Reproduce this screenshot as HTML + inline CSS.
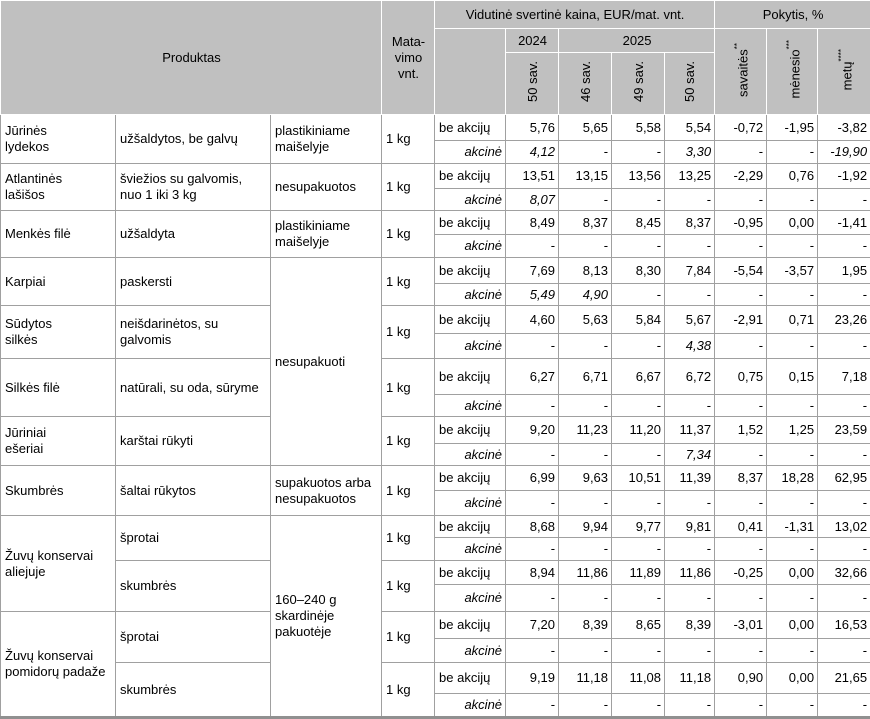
<!DOCTYPE html>
<html><head><meta charset="utf-8"><style>
body{margin:0;background:#fff;width:870px;height:719px;overflow:hidden;position:relative}
table{border-collapse:collapse;table-layout:fixed;width:870px;font-family:"Liberation Sans",Arial,sans-serif;font-size:13px;color:#000}
td{border:1px solid #a0a0a0;padding:0 3px 0 4px;overflow:hidden;line-height:16px}
.h td{background:#c0c0c0;text-align:center;border-color:#fff}
.r{text-align:right}
.i{font-style:italic;text-align:right}
.v{writing-mode:vertical-rl;transform:rotate(180deg);display:inline-block;white-space:nowrap}
sup{font-size:8px}
.bot{position:absolute;left:0;top:716px;width:870px;height:3px;background:#909090}
</style></head><body>
<table>
<colgroup><col style="width:115px"><col style="width:155px"><col style="width:111px"><col style="width:53px"><col style="width:71px"><col style="width:53px"><col style="width:53px"><col style="width:53px"><col style="width:50px"><col style="width:52px"><col style="width:51px"><col style="width:53px"></colgroup>
<tr class="h" style="height:28px"><td colspan="3" rowspan="3">Produktas</td><td rowspan="3">Mata-<br>vimo<br>vnt.</td><td colspan="5">Vidutinė svertinė kaina, EUR/mat. vnt.</td><td colspan="3">Pokytis, %</td></tr>
<tr class="h" style="height:24px"><td rowspan="2"></td><td>2024</td><td colspan="3">2025</td><td rowspan="2"><span class="v">savaitės<sup>**</sup></span></td><td rowspan="2"><span class="v">mėnesio<sup>***</sup></span></td><td rowspan="2"><span class="v">metų<sup>****</sup></span></td></tr>
<tr class="h" style="height:62px"><td><span class="v">50 sav.</span></td><td><span class="v">46 sav.</span></td><td><span class="v">49 sav.</span></td><td><span class="v">50 sav.</span></td></tr>

<tr style="height:26px"><td rowspan="2">Jūrinės<br>lydekos</td><td rowspan="2">užšaldytos, be galvų</td><td rowspan="2">plastikiniame maišelyje</td><td rowspan="2">1 kg</td><td>be akcijų</td><td class="r">5,76</td><td class="r">5,65</td><td class="r">5,58</td><td class="r">5,54</td><td class="r">-0,72</td><td class="r">-1,95</td><td class="r">-3,82</td></tr>
<tr style="height:23px"><td class="i">akcinė</td><td class="i">4,12</td><td class="r">-</td><td class="r">-</td><td class="i">3,30</td><td class="r">-</td><td class="r">-</td><td class="i">-19,90</td></tr>

<tr style="height:25px"><td rowspan="2">Atlantinės<br>lašišos</td><td rowspan="2">šviežios su galvomis,<br>nuo 1 iki 3 kg</td><td rowspan="2">nesupakuotos</td><td rowspan="2">1 kg</td><td>be akcijų</td><td class="r">13,51</td><td class="r">13,15</td><td class="r">13,56</td><td class="r">13,25</td><td class="r">-2,29</td><td class="r">0,76</td><td class="r">-1,92</td></tr>
<tr style="height:22px"><td class="i">akcinė</td><td class="i">8,07</td><td class="r">-</td><td class="r">-</td><td class="r">-</td><td class="r">-</td><td class="r">-</td><td class="r">-</td></tr>

<tr style="height:24px"><td rowspan="2">Menkės filė</td><td rowspan="2">užšaldyta</td><td rowspan="2">plastikiniame maišelyje</td><td rowspan="2">1 kg</td><td>be akcijų</td><td class="r">8,49</td><td class="r">8,37</td><td class="r">8,45</td><td class="r">8,37</td><td class="r">-0,95</td><td class="r">0,00</td><td class="r">-1,41</td></tr>
<tr style="height:23px"><td class="i">akcinė</td><td class="r">-</td><td class="r">-</td><td class="r">-</td><td class="r">-</td><td class="r">-</td><td class="r">-</td><td class="r">-</td></tr>

<tr style="height:26px"><td rowspan="2">Karpiai</td><td rowspan="2">paskersti</td><td rowspan="8">nesupakuoti</td><td rowspan="2">1 kg</td><td>be akcijų</td><td class="r">7,69</td><td class="r">8,13</td><td class="r">8,30</td><td class="r">7,84</td><td class="r">-5,54</td><td class="r">-3,57</td><td class="r">1,95</td></tr>
<tr style="height:22px"><td class="i">akcinė</td><td class="i">5,49</td><td class="i">4,90</td><td class="r">-</td><td class="r">-</td><td class="r">-</td><td class="r">-</td><td class="r">-</td></tr>

<tr style="height:28px"><td rowspan="2">Sūdytos<br>silkės</td><td rowspan="2">neišdarinėtos, su<br>galvomis</td><td rowspan="2">1 kg</td><td>be akcijų</td><td class="r">4,60</td><td class="r">5,63</td><td class="r">5,84</td><td class="r">5,67</td><td class="r">-2,91</td><td class="r">0,71</td><td class="r">23,26</td></tr>
<tr style="height:25px"><td class="i">akcinė</td><td class="r">-</td><td class="r">-</td><td class="r">-</td><td class="i">4,38</td><td class="r">-</td><td class="r">-</td><td class="r">-</td></tr>

<tr style="height:36px"><td rowspan="2">Silkės filė</td><td rowspan="2">natūrali, su oda, sūryme</td><td rowspan="2">1 kg</td><td>be akcijų</td><td class="r">6,27</td><td class="r">6,71</td><td class="r">6,67</td><td class="r">6,72</td><td class="r">0,75</td><td class="r">0,15</td><td class="r">7,18</td></tr>
<tr style="height:22px"><td class="i">akcinė</td><td class="r">-</td><td class="r">-</td><td class="r">-</td><td class="r">-</td><td class="r">-</td><td class="r">-</td><td class="r">-</td></tr>

<tr style="height:27px"><td rowspan="2">Jūriniai<br>ešeriai</td><td rowspan="2">karštai rūkyti</td><td rowspan="2">1 kg</td><td>be akcijų</td><td class="r">9,20</td><td class="r">11,23</td><td class="r">11,20</td><td class="r">11,37</td><td class="r">1,52</td><td class="r">1,25</td><td class="r">23,59</td></tr>
<tr style="height:22px"><td class="i">akcinė</td><td class="r">-</td><td class="r">-</td><td class="r">-</td><td class="i">7,34</td><td class="r">-</td><td class="r">-</td><td class="r">-</td></tr>

<tr style="height:25px"><td rowspan="2">Skumbrės</td><td rowspan="2">šaltai rūkytos</td><td rowspan="2">supakuotos arba nesupakuotos</td><td rowspan="2">1 kg</td><td>be akcijų</td><td class="r">6,99</td><td class="r">9,63</td><td class="r">10,51</td><td class="r">11,39</td><td class="r">8,37</td><td class="r">18,28</td><td class="r">62,95</td></tr>
<tr style="height:25px"><td class="i">akcinė</td><td class="r">-</td><td class="r">-</td><td class="r">-</td><td class="r">-</td><td class="r">-</td><td class="r">-</td><td class="r">-</td></tr>

<tr style="height:22px"><td rowspan="4">Žuvų konservai aliejuje</td><td rowspan="2">šprotai</td><td rowspan="8">160–240 g skardinėje pakuotėje</td><td rowspan="2">1 kg</td><td>be akcijų</td><td class="r">8,68</td><td class="r">9,94</td><td class="r">9,77</td><td class="r">9,81</td><td class="r">0,41</td><td class="r">-1,31</td><td class="r">13,02</td></tr>
<tr style="height:23px"><td class="i">akcinė</td><td class="r">-</td><td class="r">-</td><td class="r">-</td><td class="r">-</td><td class="r">-</td><td class="r">-</td><td class="r">-</td></tr>
<tr style="height:24px"><td rowspan="2">skumbrės</td><td rowspan="2">1 kg</td><td>be akcijų</td><td class="r">8,94</td><td class="r">11,86</td><td class="r">11,89</td><td class="r">11,86</td><td class="r">-0,25</td><td class="r">0,00</td><td class="r">32,66</td></tr>
<tr style="height:27px"><td class="i">akcinė</td><td class="r">-</td><td class="r">-</td><td class="r">-</td><td class="r">-</td><td class="r">-</td><td class="r">-</td><td class="r">-</td></tr>

<tr style="height:27px"><td rowspan="4">Žuvų konservai pomidorų padaže</td><td rowspan="2">šprotai</td><td rowspan="2">1 kg</td><td>be akcijų</td><td class="r">7,20</td><td class="r">8,39</td><td class="r">8,65</td><td class="r">8,39</td><td class="r">-3,01</td><td class="r">0,00</td><td class="r">16,53</td></tr>
<tr style="height:24px"><td class="i">akcinė</td><td class="r">-</td><td class="r">-</td><td class="r">-</td><td class="r">-</td><td class="r">-</td><td class="r">-</td><td class="r">-</td></tr>
<tr style="height:31px"><td rowspan="2">skumbrės</td><td rowspan="2">1 kg</td><td>be akcijų</td><td class="r">9,19</td><td class="r">11,18</td><td class="r">11,08</td><td class="r">11,18</td><td class="r">0,90</td><td class="r">0,00</td><td class="r">21,65</td></tr>
<tr style="height:23px"><td class="i">akcinė</td><td class="r">-</td><td class="r">-</td><td class="r">-</td><td class="r">-</td><td class="r">-</td><td class="r">-</td><td class="r">-</td></tr>
</table>
<div class="bot"></div>
</body></html>
